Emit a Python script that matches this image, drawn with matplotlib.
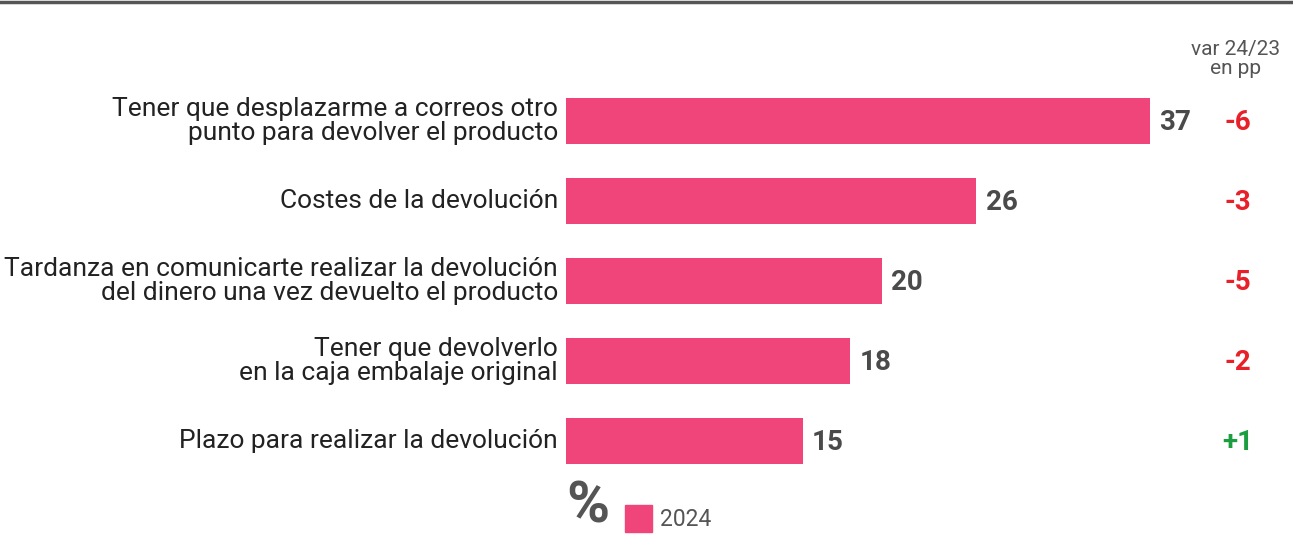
import matplotlib.pyplot as plt
from matplotlib.patches import Rectangle

# data
labels = [
    "Tener que desplazarme a correos otro\npunto para devolver el producto",
    "Costes de la devolución",
    "Tardanza en comunicarte realizar la devolución\ndel dinero una vez devuelto el producto",
    "Tener que devolverlo\nen la caja embalaje original",
    "Plazo para realizar la devolución",
]
values_2024 = [37, 26, 20, 18, 15]
var_pp = [-6, -3, -5, -2, 1]

PINK = "#F0457A"
DARK = "#4a4a4a"
RED = "#E8202A"
GREEN = "#1A9E3F"
FONT = ["Roboto", "DejaVu Sans"]

W, H = 1293, 536
fig = plt.figure(figsize=(W / 100, H / 100), dpi=100)

# axes: left edge at x=566px, full height
ax = fig.add_axes([566 / W, 0, (W - 566) / W, 1])
px_per_unit = 15.78
ax.set_xlim(0, (W - 566) / px_per_unit)
ax.set_ylim((H - 121) / 80, -121 / 80)
ax.axis("off")

ypos = list(range(len(values_2024)))
ax.barh(ypos, values_2024, height=0.575, color=PINK)

for y, lab, v, d in zip(ypos, labels, values_2024, var_pp):
    ax.text(-0.5, y, lab, ha="right", va="center", fontsize=19, color="#222222",
            family=FONT, linespacing=0.98)
    ax.text(v + 0.6, y + 0.02, str(v), ha="left", va="center", fontsize=20,
            fontweight="bold", color=DARK, family=FONT)
    s = f"+{d}" if d > 0 else str(d)
    ax.text(42.55, y + 0.02, s, ha="center", va="center", fontsize=20,
            fontweight="bold", color=GREEN if d > 0 else RED, family=FONT)

# header for variation column
fig.text(1236 / W, 1 - 59 / H, "var 24/23\nen pp", ha="center", va="center",
         fontsize=15, color="#555555", family=FONT, linespacing=0.95)

# top rule
fig.add_artist(plt.Line2D([0, 1], [1 - 2 / H, 1 - 2 / H], color="#555555", lw=2.5))

# legend
fig.text(566 / W, 1 - 507 / H, "%", ha="left", va="center", fontsize=42,
         fontweight="bold", color="#555555", family=FONT)
fig.add_artist(Rectangle((625 / W, 1 - 532 / H), 27 / W, 27 / H,
                         transform=fig.transFigure, color=PINK))
fig.text(660 / W, 1 - 519 / H, "2024", ha="left", va="center", fontsize=16.5,
         color="#555555", family=FONT)

fig.savefig("out.png", dpi=100)
